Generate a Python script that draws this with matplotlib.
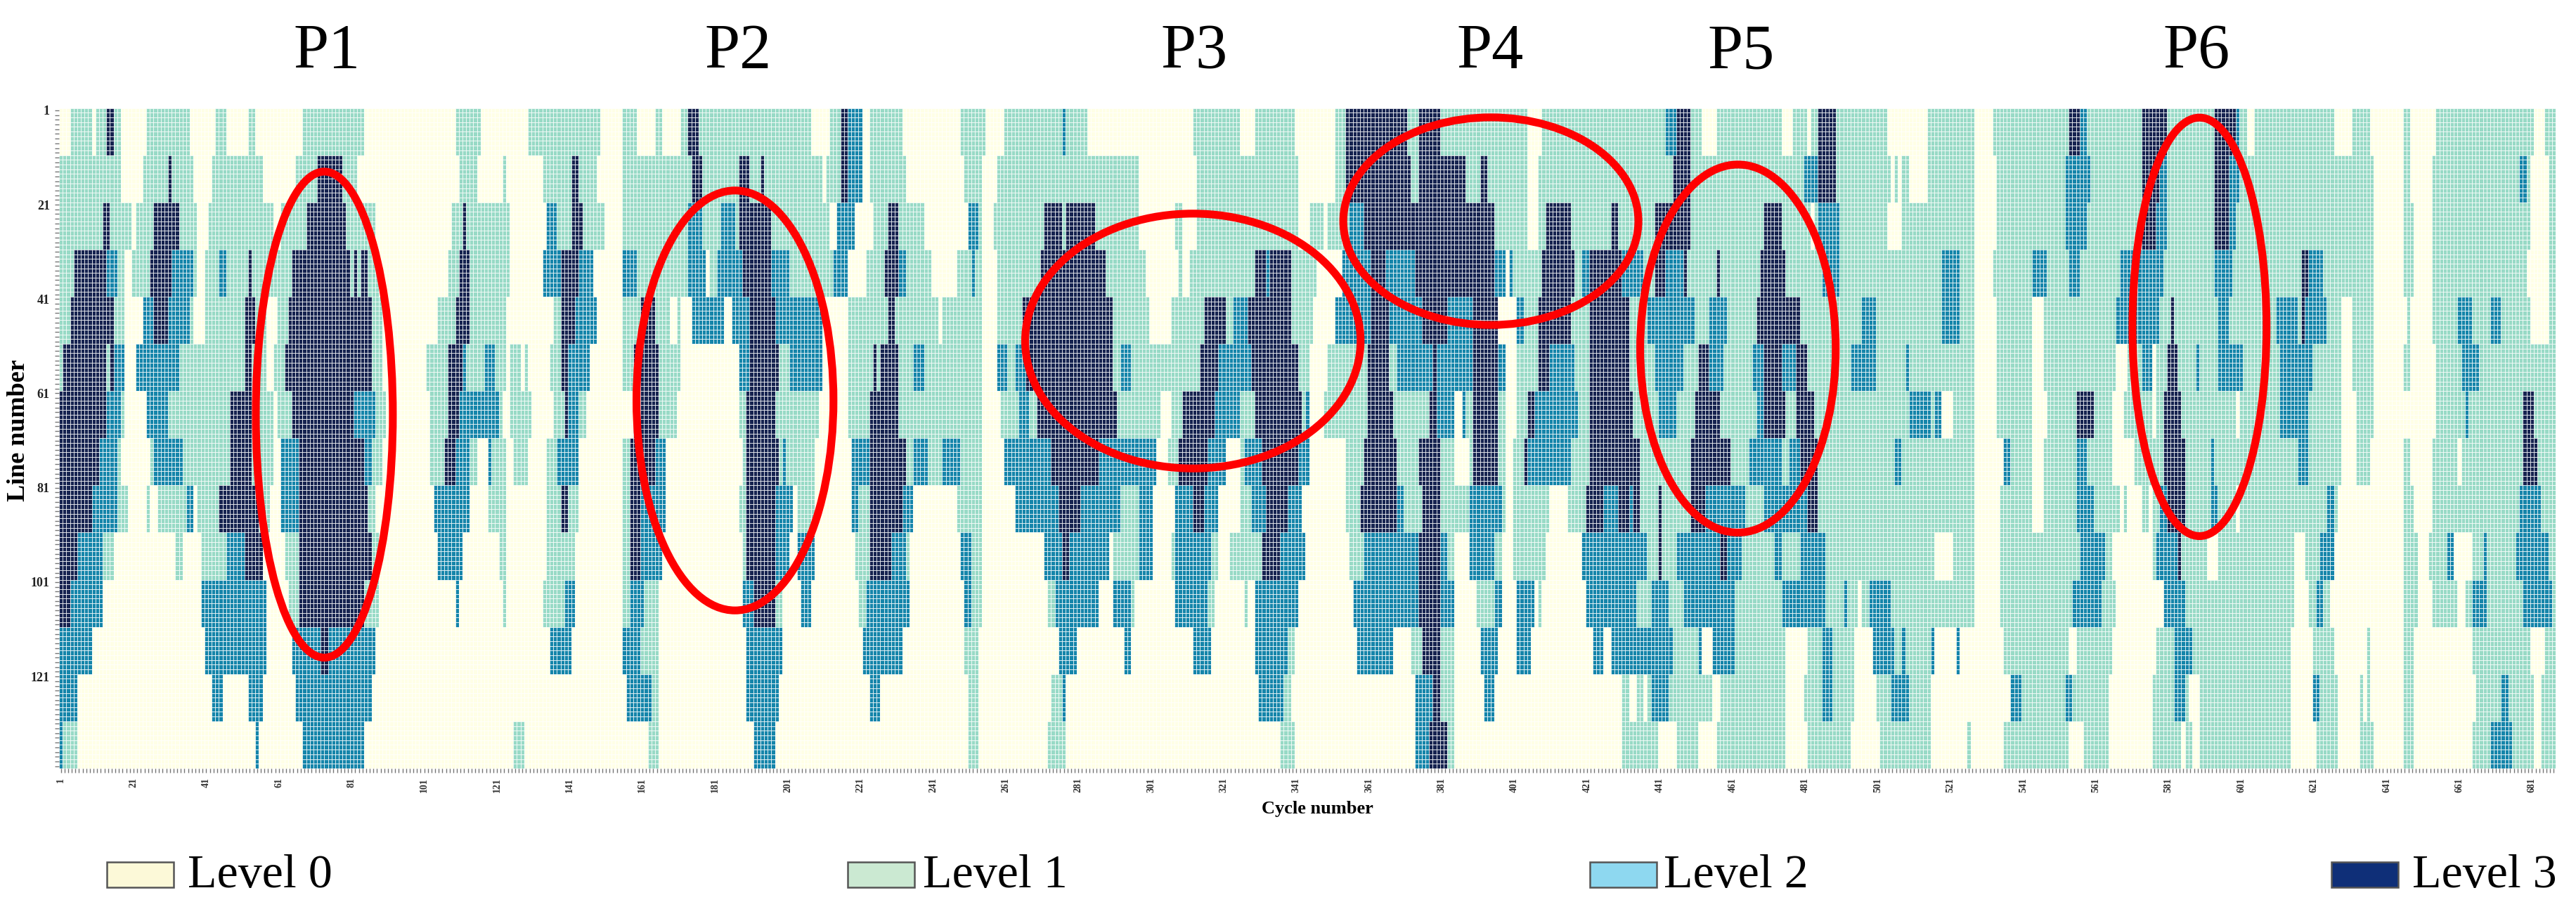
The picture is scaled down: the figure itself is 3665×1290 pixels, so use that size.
import numpy as np
import matplotlib
matplotlib.use('Agg')
import matplotlib.pyplot as plt
from matplotlib.colors import ListedColormap, BoundaryNorm
from matplotlib.patches import Ellipse, Rectangle

W, H = 3665, 1290
n_cycles = 687
lines_per_band = 10

# each band covers 10 lines; (first cycle index, level) runs
band_01 = [(0,0),(3,1),(9,0),(10,1),(13,3),(15,1),(17,0),(24,1),(36,0),(43,1),(46,0),(52,1),(54,0),(67,1),(84,0),(109,1),
           (116,0),(129,1),(149,0),(155,1),(159,0),(164,1),(166,0),(171,1),(173,3),(176,1),(207,0),(212,1),(215,3),(217,2),(221,0),(223,1),
           (232,0),(248,1),(255,0),(260,1),(276,2),(277,1),(283,0),(312,1),(325,0),(329,1),(340,0),
           (351,1),(354,3),(371,1),(374,3),(380,1),(404,0),(408,1),(442,2),(445,3),(449,1),(452,0),(456,1),
           (474,0),(477,1),(481,0),(482,1),(484,3),(489,1),(503,0),(514,1),(527,0),(532,1),(553,3),(556,2),(558,1),(573,3),
           (580,1),(593,3),(599,2),(600,1),(602,0),(604,1),(626,0),(631,1),(636,0),(645,1),(647,0),(654,1),(681,0),(684,1)]
band_02 = [(0,1),(17,0),(23,1),(30,3),(31,1),(37,0),(42,1),(56,0),(65,1),(71,3),(78,1),(82,0),(110,1),
           (115,0),(122,1),(123,0),(133,1),(141,3),(143,1),(148,0),(155,1),(174,3),(177,1),(187,3),(190,1),(193,3),(194,1),(210,0),(211,1),(215,3),(217,2),(221,0),(223,1),
           (233,0),(249,1),(254,0),(258,1),(297,0),(313,1),(341,0),
           (351,1),(354,3),(372,1),(374,3),(387,1),(391,3),(393,1),(404,0),(407,1),(444,3),(449,1),
           (480,2),(484,3),(489,1),(504,0),(505,1),(506,0),(507,1),(509,0),(514,1),(527,0),(533,1),(552,2),(559,1),(573,3),
           (578,2),(580,1),(593,3),(597,2),(600,1),(637,0),(645,1),(647,0),(653,1),(677,2),(679,1),(680,0),(685,1)]
band_03 = [(0,1),(12,3),(14,1),(20,0),(21,1),(26,3),(33,1),(38,0),(41,1),(59,0),(61,1),(68,3),(79,1),(87,0),(108,1),(111,3),(112,1),
           (124,0),(134,2),(137,1),(141,3),(144,1),(150,0),(155,1),(173,2),(177,1),(182,2),(186,1),(187,3),(196,1),(212,0),(214,2),(219,0),(224,1),(228,3),
           (231,1),(238,0),(250,2),(253,1),(254,0),(257,1),(271,3),(276,1),(277,3),(285,1),(297,0),(307,1),(309,0),(313,1),(341,0),(344,1),
           (348,0),(349,1),(355,2),(359,3),(395,1),(404,0),(407,1),(409,3),(416,1),(427,3),(429,1),(439,3),(449,1),
           (469,3),(474,1),(482,0),(483,1),(484,2),(490,1),(503,0),(507,1),(527,0),(533,1),(552,2),(558,1),(573,3),
           (577,2),(580,1),(593,3),(597,2),(599,1),(637,0),(645,1),(648,0),(653,1),(680,0),(685,1)]
band_04 = [(0,1),(4,3),(13,2),(16,1),(18,0),(20,1),(25,3),(31,2),(37,1),(38,0),(40,1),(44,2),(46,1),(52,3),(53,1),(64,3),(80,1),(81,3),(82,1),(83,3),(85,1),(88,0),(107,1),(110,3),(113,1),
           (124,0),(133,2),(138,3),(143,2),(147,0),(155,2),(159,1),(173,2),(178,0),(179,1),(181,2),(188,3),(196,2),(201,1),(213,2),(217,0),(222,1),(227,3),
           (231,2),(233,1),(240,0),(247,1),(251,2),(252,1),(254,0),(258,1),(270,3),(288,1),(299,0),(308,1),(309,0),(311,1),(329,3),(332,2),(333,3),(339,1),(346,0),
           (353,2),(361,3),(365,2),(373,3),(395,2),(398,0),(399,2),(400,1),(408,3),(417,1),(419,2),(421,3),(430,2),(436,1),(439,3),(442,2),(447,3),(448,1),(456,3),(457,1),
           (468,3),(475,1),(485,2),(490,1),(518,2),(523,1),(527,0),(532,1),(543,2),(547,1),(553,2),(556,1),(567,2),
           (579,1),(593,2),(598,1),(617,3),(619,2),(623,1),(637,0),(645,1),(648,0),(653,1),(679,0),(685,1)]
band_05 = [(0,1),(3,3),(15,1),(18,0),(23,2),(26,3),(30,2),(36,1),(37,0),(40,1),(51,3),(54,1),(57,0),(60,1),(63,3),(86,1),(89,0),(104,1),(109,3),(113,1),
           (123,0),(136,1),(138,3),(142,2),(148,0),(155,1),(160,3),(164,1),(168,0),(170,1),(171,0),(174,2),(183,0),(185,2),(190,3),(197,2),(210,0),(217,1),(228,3),(230,1),
           (242,0),(243,1),(254,0),(258,1),(265,3),(290,1),(300,0),(306,1),(315,3),(321,1),(323,2),(327,3),(339,1),(345,0),
           (351,2),(361,3),(366,2),(375,3),(382,2),(389,3),(396,0),(401,2),(403,1),(407,3),(416,1),(421,3),(432,1),(437,2),(450,1),(454,2),(459,1),
           (467,3),(479,1),(496,2),(500,1),(518,2),(523,1),(527,0),(533,1),(543,0),(546,1),(566,2),
           (578,1),(581,3),(582,1),(594,2),(597,1),(610,2),(616,1),(617,3),(618,2),(624,1),(628,0),(631,1),(637,0),(646,1),(647,0),(653,1),(660,2),(664,1),(669,2),(672,1),(680,0),(685,1)]
band_06 = [(0,1),(1,3),(13,1),(14,3),(15,2),(18,0),(21,2),(33,1),(51,3),(53,1),(57,0),(59,1),(62,3),(86,1),(89,0),(101,1),(107,3),(111,2),(112,1),
           (117,2),(120,1),(123,0),(124,1),(127,0),(128,1),(129,0),(135,1),(138,3),(140,2),(146,0),(155,1),(158,3),(165,1),(171,0),(187,2),(190,3),(198,1),(201,2),(210,0),(217,1),(224,3),(225,1),(226,3),
           (231,1),(235,2),(238,1),(254,0),(258,2),(261,1),(263,2),(266,3),(290,1),(292,2),(295,1),(314,3),(319,2),(328,3),(341,1),(344,0),
           (349,1),(360,3),(366,1),(368,2),(378,3),(379,2),(389,3),(396,2),(398,0),(401,1),(407,3),(410,2),(417,1),(421,3),(432,1),(439,2),(447,1),(451,3),(454,2),(458,1),
           (466,2),(469,3),(474,2),(478,3),(481,1),(493,2),(500,1),(508,2),(509,1),(527,0),(533,1),(543,0),(546,1),(566,0),(569,1),(573,2),
           (576,0),(577,1),(580,3),(583,1),(588,2),(589,1),(594,2),(601,1),(611,2),(620,1),(628,0),(631,1),(637,0),(645,1),(647,0),(654,1),(661,2),(666,1)]
band_07 = [(0,3),(13,2),(17,1),(18,0),(24,2),(30,1),(47,3),(53,1),(59,0),(60,1),(64,3),(81,2),(87,1),(90,0),(102,1),(107,3),(110,2),
           (121,1),(122,0),(124,1),(130,0),(136,1),(139,3),(140,2),(143,1),(145,0),(158,3),(165,1),(170,0),(187,1),(189,3),(197,1),(209,0),(217,1),(223,3),
           (231,1),(254,0),(259,1),(264,2),(267,1),(269,3),(291,1),(303,0),(306,1),(309,3),(318,2),(325,1),(329,3),(342,1),(343,2),(344,0),
           (348,1),(360,3),(367,1),(377,3),(379,2),(384,0),(386,2),(387,1),(389,3),(396,1),(398,0),(401,1),(404,3),(406,2),(418,1),(421,3),(433,1),(440,2),(445,1),(450,3),(457,1),
           (467,2),(469,3),(475,1),(478,3),(483,1),(509,2),(515,1),(516,2),(518,0),(521,1),(527,0),(533,1),(543,0),(547,1),(555,3),(560,1),(565,0),(568,1),
           (576,0),(577,1),(579,3),(584,1),(599,0),(600,1),(611,2),(619,1),(628,0),(632,1),(637,0),(654,1),(662,2),(663,1),(678,3),(681,1)]
band_08 = [(0,3),(11,2),(16,1),(17,0),(25,1),(26,2),(34,1),(47,3),(53,1),(59,0),(61,2),(66,3),(84,2),(86,1),(89,0),(102,1),(106,3),(109,2),(113,1),
           (115,0),(118,2),(119,1),(123,0),(125,1),(129,0),(134,1),(137,2),(143,0),(155,1),(157,3),(164,2),(167,0),(188,1),(189,3),(198,1),(199,2),(200,1),(208,0),(218,2),(223,3),
           (233,1),(235,2),(239,1),(243,2),(248,1),(254,0),(260,2),(273,3),(286,2),(302,0),(305,1),(308,3),(316,2),(321,0),(325,1),(326,2),(331,3),(341,2),(344,0),
           (354,1),(359,3),(368,1),(374,3),(380,1),(384,0),(388,1),(389,3),(396,1),(398,0),(400,1),(403,3),(404,2),(416,1),(421,3),(435,1),(449,3),(460,1),
           (465,2),(474,1),(476,2),(479,3),(484,1),(505,2),(507,1),(527,0),(535,2),(537,1),(543,0),(546,1),(555,2),(558,1),(565,0),(571,1),
           (579,3),(585,1),(592,2),(593,1),(616,2),(619,1),(628,0),(632,1),(636,0),(645,1),(647,0),(653,1),(660,0),(661,1),(678,3),(682,1)]
band_09 = [(0,3),(9,2),(16,1),(19,0),(24,1),(25,0),(27,1),(35,2),(37,0),(38,1),(44,3),(55,1),(58,0),(61,2),(66,3),(85,1),(87,0),(103,2),(113,0),
           (118,1),(123,0),(134,1),(138,3),(140,1),(143,0),(155,1),(157,3),(160,2),(167,0),(187,1),(189,3),(197,2),(202,0),(203,1),(208,0),(218,2),(220,1),(223,3),
           (232,2),(235,0),(247,1),(254,0),(263,2),(275,3),(281,2),(292,1),(297,2),(301,0),(307,2),(312,3),(315,2),(319,0),(325,1),(328,2),(332,3),(338,2),(342,0),
           (354,1),(358,3),(368,2),(370,1),(375,3),(380,1),(388,2),(397,1),(398,0),(400,1),(410,0),(415,1),(420,3),(425,2),(429,3),(432,2),(433,3),(435,1),(440,3),(441,1),(449,3),(453,2),
           (463,2),(464,1),(469,2),(481,3),(484,1),(527,0),(534,1),(543,0),(546,1),(555,2),(560,1),(567,0),(568,1),(569,0),(573,1),(575,0),
           (576,1),(578,2),(580,3),(585,1),(592,2),(594,1),(599,0),(600,1),(624,2),(626,1),(627,0),(645,1),(648,0),(653,1),(677,2),(683,1)]
band_10 = [(0,3),(5,2),(12,1),(15,0),(32,1),(34,0),(39,1),(46,2),(51,3),(56,0),(62,1),(66,3),(86,1),(88,0),(104,2),(111,0),
           (121,1),(123,0),(134,1),(142,0),(155,1),(157,3),(160,2),(166,0),(188,1),(189,3),(197,2),(201,0),(203,2),(208,0),(219,1),(223,3),(229,2),
           (233,1),(234,0),(248,2),(251,1),(254,0),(271,2),(276,3),(278,2),(289,0),(290,1),(297,2),(301,0),(306,1),(307,2),(317,1),(319,0),(322,1),(331,3),(336,2),(343,0),
           (355,1),(359,2),(374,3),(380,2),(382,1),(384,0),(388,2),(395,1),(397,0),(400,1),(409,0),(419,2),(437,1),(440,3),(441,1),(445,2),(457,3),(459,2),
           (463,1),(472,2),(474,1),(479,2),(486,1),(516,0),(521,1),(527,0),(534,1),(556,2),(563,1),(565,0),
           (576,1),(577,2),(583,3),(584,1),(591,0),(594,1),(615,0),(618,1),(622,2),(626,0),(645,1),(649,0),(652,1),(657,2),(659,0),(664,1),(667,2),(668,1),(676,2),(685,1)]
band_11 = [(0,3),(3,2),(12,0),(39,2),(57,0),(63,1),(66,3),(84,1),(88,0),(109,2),(110,0),
           (122,1),(123,0),(133,1),(139,2),(142,0),(155,1),(157,2),(161,1),(165,0),(188,2),(191,3),(197,1),(199,0),(204,2),(207,0),(220,1),(222,2),
           (234,0),(249,2),(251,1),(254,0),(272,1),(274,2),(286,0),(290,2),(295,1),(296,0),(307,2),(316,1),(318,0),(326,1),(327,0),(329,2),(341,0),
           (356,2),(374,3),(380,2),(384,0),(390,1),(395,2),(397,0),(401,2),(406,0),(407,1),(408,0),(420,2),(434,1),(438,2),(443,1),(447,2),(461,1),
           (474,2),(486,1),(491,2),(492,1),(495,0),(496,1),(498,2),(504,1),(527,0),(534,1),(554,2),(562,1),(566,0),
           (579,2),(585,1),(615,0),(619,1),(621,2),(623,1),(625,0),(645,1),(649,0),(653,1),(660,0),(662,1),(664,2),(668,1),(678,2),(686,1)]
band_12 = [(0,2),(9,0),(40,2),(57,0),(64,2),(72,3),(74,2),(87,0),
           (135,2),(141,0),(155,2),(160,1),(165,0),(189,2),(199,0),(221,2),
           (232,0),(249,1),(253,0),(275,2),(280,0),(293,2),(295,0),(312,2),(317,0),(329,2),(338,1),(340,0),
           (357,2),(367,0),(372,1),(375,3),(380,1),(384,0),(391,2),(396,0),(401,2),(405,0),(422,2),(425,0),(427,2),(444,1),(451,2),(452,0),(455,2),(461,1),
           (475,0),(481,1),(485,2),(488,1),(494,0),(499,2),(505,1),(507,2),(508,1),(515,2),(516,0),(522,2),(523,0),(535,1),(553,0),(555,1),(565,0),
           (577,1),(582,2),(587,1),(614,0),(620,1),(626,0),(635,1),(636,0),(645,1),(648,0),(664,1),(680,0),(684,1)]
band_13 = [(0,2),(5,0),(42,2),(45,0),(52,2),(56,0),(65,2),(86,0),
           (156,2),(163,1),(165,0),(189,2),(198,0),(223,2),(226,0),
           (250,1),(253,0),(273,1),(276,2),(277,0),(330,2),(337,1),(339,0),
           (373,2),(378,3),(380,1),(384,0),(392,2),(395,0),(430,1),(432,0),(434,1),(436,0),(437,1),(438,2),(443,1),(455,0),(457,1),
           (475,0),(480,1),(485,2),(488,1),(494,0),(500,1),(504,2),(509,1),(515,0),(537,2),(540,1),(552,2),(554,1),(564,0),
           (576,1),(582,2),(585,1),(586,0),(589,1),(614,0),(620,2),(622,1),(627,0),(633,1),(634,0),(635,1),(636,0),(645,1),(648,0),(665,1),(672,2),(674,1),(681,0),(683,1)]
band_14 = [(0,2),(1,1),(5,0),(54,2),(55,0),(67,2),(84,0),
           (125,1),(128,0),(162,1),(165,0),(191,2),(197,0),
           (250,1),(253,0),(272,1),(277,0),(336,1),(340,0),
           (373,2),(377,3),(382,1),(384,0),(430,1),(440,0),(445,1),(451,0),(456,1),
           (475,0),(481,1),(493,0),(501,1),(515,0),(525,1),(526,0),(535,1),(553,0),(557,1),(564,0),
           (576,1),(584,0),(585,1),(587,0),(589,1),(614,0),(621,1),(627,0),(633,1),(637,0),(645,1),(648,0),(664,1),(669,2),(675,1),(681,0),(683,1)]
bands = [band_01, band_02, band_03, band_04, band_05, band_06, band_07,
         band_08, band_09, band_10, band_11, band_12, band_13, band_14]

level_colors = ['#ffffe6', '#98dac6', '#1585aa', '#162350']
legend_labels = ['Level 0', 'Level 1', 'Level 2', 'Level 3']
legend_colors = ['#fcf9d8', '#cbe9d2', '#8ed8f0', '#0f2f78']
period_labels = ['P1', 'P2', 'P3', 'P4', 'P5', 'P6']
# ellipse centre (cycle, line), width in cycles, height in lines
period_x = [73, 186, 312, 394, 462, 589]
period_y = [65, 62, 49.4, 24, 51, 46.4]
period_w = [37.7, 54.2, 92.3, 81.2, 53.8, 36.9]
period_h = [103, 89, 54, 44, 78, 88.7]
period_title_px = [465, 1050, 1699, 2120, 2477, 3125]
legend_box_px = [152, 1206, 2262, 3317]
legend_text_px = [267, 1313, 2367, 3432]

def expand(runs):
    row = np.zeros(n_cycles, dtype=int)
    for (start, level), nxt in zip(runs, runs[1:] + [(n_cycles, 0)]):
        row[start:nxt[0]] = level
    return row

grid = np.repeat(np.array([expand(b) for b in bands]), lines_per_band, axis=0)

serif = 'Liberation Serif'
fig = plt.figure(figsize=(W / 100, H / 100), dpi=100)
ax = fig.add_axes([84 / W, 1 - 1093 / H, (3636 - 84) / W, (1093 - 153.5) / H])

cmap = ListedColormap(level_colors)
norm = BoundaryNorm([-0.5, 0.5, 1.5, 2.5, 3.5], 4)
ax.pcolormesh(np.arange(n_cycles + 1), np.arange(grid.shape[0] + 1), grid, cmap=cmap, norm=norm,
              edgecolors='white', linewidth=0.5, antialiased=True)
ax.set_xlim(0, n_cycles)
ax.set_ylim(grid.shape[0], 0)
for s in ax.spines.values():
    s.set_visible(False)

# a tick for every cycle and line, only each 20th labelled
ax.set_xticks(np.arange(n_cycles) + 0.5)
ax.set_xticklabels([str(i + 1) if i % 20 == 0 else '' for i in range(n_cycles)],
                   rotation=90, fontsize=10, fontweight='bold', family=serif, color='#333333')
ax.set_yticks(np.arange(grid.shape[0]) + 0.5)
ax.set_yticklabels([str(i + 1) if i % 20 == 0 else '' for i in range(grid.shape[0])],
                   fontsize=13, fontweight='bold', family=serif, color='#222222')
ax.tick_params(axis='both', length=4.5, width=1.0, color='#777777', pad=5)

for x, y, w, h in zip(period_x, period_y, period_w, period_h):
    ax.add_patch(Ellipse((x, y), w, h, fill=False, edgecolor='#ff0000', linewidth=8, zorder=5, clip_on=False))

for label, px in zip(period_labels, period_title_px):
    fig.text(px / W, 1 - 75 / H, label, family=serif, fontsize=65, ha='center', va='center', color='black')

fig.text(27 / W, 1 - 612 / H, 'Line number', family=serif, fontweight='bold', fontsize=26,
         rotation=90, ha='center', va='center')
fig.text(1874 / W, 1 - 1150 / H, 'Cycle number', family=serif, fontweight='bold', fontsize=19,
         ha='center', va='center')

for col, label, bx, tx in zip(legend_colors, legend_labels, legend_box_px, legend_text_px):
    fig.patches.append(Rectangle((bx / W, 1 - 1262 / H), 95 / W, 36 / H, transform=fig.transFigure,
                                 facecolor=col, edgecolor='#555555', linewidth=1.8))
    fig.text(tx / W, 1 - 1262 / H, label, family=serif, fontsize=49, ha='left', va='baseline', color='black')

fig.savefig('out.png', dpi=100)
plt.close(fig)
